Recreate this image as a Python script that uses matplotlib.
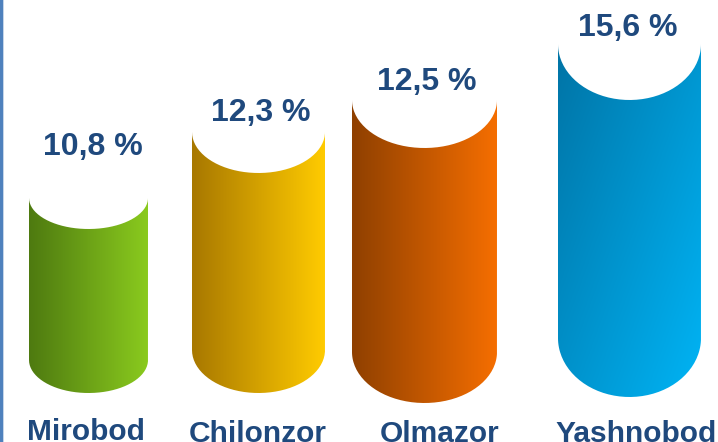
import numpy as np
import matplotlib
matplotlib.use("Agg")
import matplotlib.pyplot as plt
from matplotlib.colors import LinearSegmentedColormap
from matplotlib.patches import PathPatch
from matplotlib.path import Path

# values from the chart
districts = ['Mirobod', 'Chilonzor', 'Olmazor', 'Yashnobod']
percent = ['10,8', '12,3', '12,5', '15,6']

# cylinders are hand drawn in the original, not to scale, so these are in pixels
cyl_left = [29, 192, 352, 558]
cyl_right = [148, 325, 497, 701]
cyl_top = [198, 132, 100, 44]
cyl_side_bottom = [360, 350, 352, 338]
cyl_bottom = [393, 393, 403, 397]
cyl_top_dip = [31, 41, 48, 56]
dark = ['#4e7a10', '#a87800', '#8f4000', '#0074a6']
light = ['#8aca1e', '#ffcb00', '#f56e00', '#00b4f5']
grad_tilt = [0, 0, 0, 0.9]

value_x = [93, 260.5, 426.5, 628]
value_y = [155, 121, 90, 36]
label_x = [86, 257.5, 440, 636]
label_y = [439.5, 441.5, 441.5, 441.5]

text_col = '#1f497d'
plt.rcParams['font.family'] = ['Liberation Sans', 'DejaVu Sans']

fig = plt.figure(figsize=(7.18, 4.42), dpi=100)
ax = fig.add_axes([0, 0, 1, 1])
ax.set_xlim(0, 718)
ax.set_ylim(442, 0)
ax.axis('off')


def cylinder_path(x0, x1, top, side_bottom, bottom, dip):
    t = np.linspace(np.pi, 0, 80)
    cx = (x0 + x1) / 2
    rx = (x1 - x0) / 2
    # white top: lower half of the ellipse is the upper edge of the colour
    upper = np.column_stack((cx + rx * np.cos(t), top + dip * np.sin(t)))
    lower = np.column_stack((cx + rx * np.cos(t[::-1]),
                             side_bottom + (bottom - side_bottom) * np.sin(t[::-1])))
    pts = np.vstack((upper, lower, upper[:1]))
    return Path(pts)


for i in range(len(districts)):
    path = cylinder_path(cyl_left[i], cyl_right[i], cyl_top[i],
                         cyl_side_bottom[i], cyl_bottom[i], cyl_top_dip[i])
    patch = PathPatch(path, facecolor='none', edgecolor='none')
    ax.add_patch(patch)

    # gradient, left to right (tilted down for the blue one)
    xx, yy = np.meshgrid(np.linspace(0, 1, 200), np.linspace(0, 1, 200))
    grad = (xx + grad_tilt[i] * yy) / (1 + grad_tilt[i])
    cmap = LinearSegmentedColormap.from_list('cyl', [dark[i], light[i]])
    im = ax.imshow(grad, cmap=cmap, vmin=0, vmax=1, aspect='auto',
                   extent=(cyl_left[i], cyl_right[i], cyl_bottom[i], cyl_top[i]),
                   interpolation='bilinear', zorder=2)
    im.set_clip_path(patch)

    ax.text(value_x[i], value_y[i], percent[i] + ' %', color=text_col, fontsize=23,
            fontweight='bold', ha='center', va='baseline', zorder=3)
    # baselines sit right on the bottom edge, same as the reference
    ax.text(label_x[i], label_y[i], districts[i], color=text_col, fontsize=21.5,
            fontweight='bold', ha='center', va='baseline', zorder=3)

# blue rule down the left edge of the slide
ax.axvspan(0, 2.5, color='#4f81bd', lw=0, zorder=4)
ax.axvspan(2.5, 4, color='#c5d5e8', lw=0, zorder=4)

ax.set_xlim(0, 718)
ax.set_ylim(442, 0)
fig.savefig('out.png', dpi=100)
